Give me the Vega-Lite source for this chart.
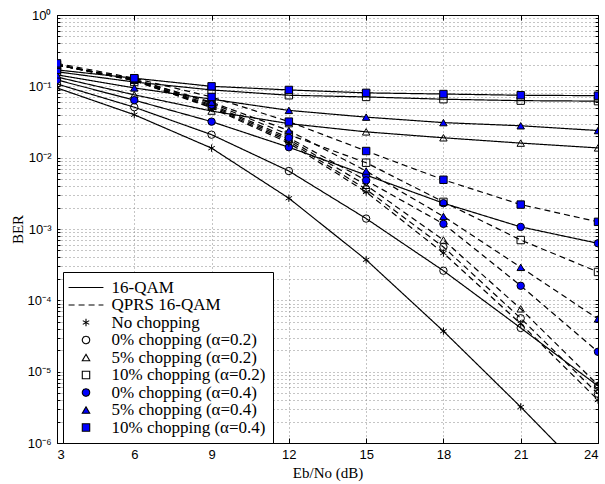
{
  "$schema": "https://vega.github.io/schema/vega-lite/v6.json",
  "width": 541,
  "height": 428,
  "autosize": "none",
  "padding": {"left": 57, "top": 15, "right": 7, "bottom": 41},
  "background": "white",
  "config": {
    "view": {"stroke": "black", "strokeWidth": 1},
    "axis": {
      "domainColor": "black", "tickColor": "black", "labelColor": "black", "titleColor": "black",
      "labelFont": "Liberation Sans", "labelFontSize": 13,
      "titleFont": "Liberation Serif", "titleFontSize": 15, "titleFontWeight": "normal",
      "gridColor": "#8a8a8a", "gridDash": [1, 3], "gridOpacity": 1, "gridWidth": 1
    },
    "legend": {
      "orient": "none", "legendX": 6, "legendY": 257,
      "strokeColor": "black", "fillColor": "white", "padding": 7,
      "labelFont": "Liberation Serif", "labelFontSize": 17, "labelColor": "black",
      "symbolStrokeColor": "black", "symbolStrokeWidth": 1.1, "symbolSize": 55,
      "symbolOffset": 7.5, "labelOffset": 17, "rowPadding": -0.5
    }
  },
  "data": {
    "values": [
      {"x": 3, "ber": 0.095, "mod": "16-QAM", "marker": "No chopping"},
      {"x": 6, "ber": 0.040, "mod": "16-QAM", "marker": "No chopping"},
      {"x": 9, "ber": 0.0136, "mod": "16-QAM", "marker": "No chopping"},
      {"x": 12, "ber": 0.0027, "mod": "16-QAM", "marker": "No chopping"},
      {"x": 15, "ber": 0.00037, "mod": "16-QAM", "marker": "No chopping"},
      {"x": 18, "ber": 0.000037, "mod": "16-QAM", "marker": "No chopping"},
      {"x": 21, "ber": 0.0000032, "mod": "16-QAM", "marker": "No chopping"},
      {"x": 24, "ber": 0.00000025, "mod": "16-QAM", "marker": "No chopping"},

      {"x": 3, "ber": 0.108, "mod": "16-QAM", "marker": "0% chopping (α=0.2)"},
      {"x": 6, "ber": 0.051, "mod": "16-QAM", "marker": "0% chopping (α=0.2)"},
      {"x": 9, "ber": 0.021, "mod": "16-QAM", "marker": "0% chopping (α=0.2)"},
      {"x": 12, "ber": 0.0065, "mod": "16-QAM", "marker": "0% chopping (α=0.2)"},
      {"x": 15, "ber": 0.0014, "mod": "16-QAM", "marker": "0% chopping (α=0.2)"},
      {"x": 18, "ber": 0.00026, "mod": "16-QAM", "marker": "0% chopping (α=0.2)"},
      {"x": 21, "ber": 0.000041, "mod": "16-QAM", "marker": "0% chopping (α=0.2)"},
      {"x": 24, "ber": 0.0000063, "mod": "16-QAM", "marker": "0% chopping (α=0.2)"},

      {"x": 3, "ber": 0.135, "mod": "16-QAM", "marker": "5% chopping (α=0.2)"},
      {"x": 6, "ber": 0.076, "mod": "16-QAM", "marker": "5% chopping (α=0.2)"},
      {"x": 9, "ber": 0.045, "mod": "16-QAM", "marker": "5% chopping (α=0.2)"},
      {"x": 12, "ber": 0.030, "mod": "16-QAM", "marker": "5% chopping (α=0.2)"},
      {"x": 15, "ber": 0.023, "mod": "16-QAM", "marker": "5% chopping (α=0.2)"},
      {"x": 18, "ber": 0.019, "mod": "16-QAM", "marker": "5% chopping (α=0.2)"},
      {"x": 21, "ber": 0.016, "mod": "16-QAM", "marker": "5% chopping (α=0.2)"},
      {"x": 24, "ber": 0.0137, "mod": "16-QAM", "marker": "5% chopping (α=0.2)"},

      {"x": 3, "ber": 0.16, "mod": "16-QAM", "marker": "10% chopping (α=0.2)"},
      {"x": 6, "ber": 0.115, "mod": "16-QAM", "marker": "10% chopping (α=0.2)"},
      {"x": 9, "ber": 0.089, "mod": "16-QAM", "marker": "10% chopping (α=0.2)"},
      {"x": 12, "ber": 0.075, "mod": "16-QAM", "marker": "10% chopping (α=0.2)"},
      {"x": 15, "ber": 0.071, "mod": "16-QAM", "marker": "10% chopping (α=0.2)"},
      {"x": 18, "ber": 0.066, "mod": "16-QAM", "marker": "10% chopping (α=0.2)"},
      {"x": 21, "ber": 0.063, "mod": "16-QAM", "marker": "10% chopping (α=0.2)"},
      {"x": 24, "ber": 0.062, "mod": "16-QAM", "marker": "10% chopping (α=0.2)"},

      {"x": 3, "ber": 0.123, "mod": "16-QAM", "marker": "0% chopping (α=0.4)"},
      {"x": 6, "ber": 0.064, "mod": "16-QAM", "marker": "0% chopping (α=0.4)"},
      {"x": 9, "ber": 0.032, "mod": "16-QAM", "marker": "0% chopping (α=0.4)"},
      {"x": 12, "ber": 0.014, "mod": "16-QAM", "marker": "0% chopping (α=0.4)"},
      {"x": 15, "ber": 0.0057, "mod": "16-QAM", "marker": "0% chopping (α=0.4)"},
      {"x": 18, "ber": 0.0023, "mod": "16-QAM", "marker": "0% chopping (α=0.4)"},
      {"x": 21, "ber": 0.00107, "mod": "16-QAM", "marker": "0% chopping (α=0.4)"},
      {"x": 24, "ber": 0.00063, "mod": "16-QAM", "marker": "0% chopping (α=0.4)"},

      {"x": 3, "ber": 0.145, "mod": "16-QAM", "marker": "5% chopping (α=0.4)"},
      {"x": 6, "ber": 0.095, "mod": "16-QAM", "marker": "5% chopping (α=0.4)"},
      {"x": 9, "ber": 0.066, "mod": "16-QAM", "marker": "5% chopping (α=0.4)"},
      {"x": 12, "ber": 0.046, "mod": "16-QAM", "marker": "5% chopping (α=0.4)"},
      {"x": 15, "ber": 0.037, "mod": "16-QAM", "marker": "5% chopping (α=0.4)"},
      {"x": 18, "ber": 0.031, "mod": "16-QAM", "marker": "5% chopping (α=0.4)"},
      {"x": 21, "ber": 0.028, "mod": "16-QAM", "marker": "5% chopping (α=0.4)"},
      {"x": 24, "ber": 0.024, "mod": "16-QAM", "marker": "5% chopping (α=0.4)"},

      {"x": 3, "ber": 0.17, "mod": "16-QAM", "marker": "10% chopping (α=0.4)"},
      {"x": 6, "ber": 0.13, "mod": "16-QAM", "marker": "10% chopping (α=0.4)"},
      {"x": 9, "ber": 0.10, "mod": "16-QAM", "marker": "10% chopping (α=0.4)"},
      {"x": 12, "ber": 0.089, "mod": "16-QAM", "marker": "10% chopping (α=0.4)"},
      {"x": 15, "ber": 0.081, "mod": "16-QAM", "marker": "10% chopping (α=0.4)"},
      {"x": 18, "ber": 0.078, "mod": "16-QAM", "marker": "10% chopping (α=0.4)"},
      {"x": 21, "ber": 0.075, "mod": "16-QAM", "marker": "10% chopping (α=0.4)"},
      {"x": 24, "ber": 0.074, "mod": "16-QAM", "marker": "10% chopping (α=0.4)"},

      {"x": 3, "ber": 0.20, "mod": "QPRS 16-QAM", "marker": "No chopping"},
      {"x": 6, "ber": 0.12, "mod": "QPRS 16-QAM", "marker": "No chopping"},
      {"x": 9, "ber": 0.050, "mod": "QPRS 16-QAM", "marker": "No chopping"},
      {"x": 12, "ber": 0.016, "mod": "QPRS 16-QAM", "marker": "No chopping"},
      {"x": 15, "ber": 0.0033, "mod": "QPRS 16-QAM", "marker": "No chopping"},
      {"x": 18, "ber": 0.00046, "mod": "QPRS 16-QAM", "marker": "No chopping"},
      {"x": 21, "ber": 0.000047, "mod": "QPRS 16-QAM", "marker": "No chopping"},
      {"x": 24, "ber": 0.0000040, "mod": "QPRS 16-QAM", "marker": "No chopping"},

      {"x": 3, "ber": 0.20, "mod": "QPRS 16-QAM", "marker": "0% chopping (α=0.2)"},
      {"x": 6, "ber": 0.121, "mod": "QPRS 16-QAM", "marker": "0% chopping (α=0.2)"},
      {"x": 9, "ber": 0.051, "mod": "QPRS 16-QAM", "marker": "0% chopping (α=0.2)"},
      {"x": 12, "ber": 0.017, "mod": "QPRS 16-QAM", "marker": "0% chopping (α=0.2)"},
      {"x": 15, "ber": 0.0036, "mod": "QPRS 16-QAM", "marker": "0% chopping (α=0.2)"},
      {"x": 18, "ber": 0.00056, "mod": "QPRS 16-QAM", "marker": "0% chopping (α=0.2)"},
      {"x": 21, "ber": 0.000056, "mod": "QPRS 16-QAM", "marker": "0% chopping (α=0.2)"},
      {"x": 24, "ber": 0.0000049, "mod": "QPRS 16-QAM", "marker": "0% chopping (α=0.2)"},

      {"x": 3, "ber": 0.20, "mod": "QPRS 16-QAM", "marker": "5% chopping (α=0.2)"},
      {"x": 6, "ber": 0.122, "mod": "QPRS 16-QAM", "marker": "5% chopping (α=0.2)"},
      {"x": 9, "ber": 0.053, "mod": "QPRS 16-QAM", "marker": "5% chopping (α=0.2)"},
      {"x": 12, "ber": 0.018, "mod": "QPRS 16-QAM", "marker": "5% chopping (α=0.2)"},
      {"x": 15, "ber": 0.0041, "mod": "QPRS 16-QAM", "marker": "5% chopping (α=0.2)"},
      {"x": 18, "ber": 0.00070, "mod": "QPRS 16-QAM", "marker": "5% chopping (α=0.2)"},
      {"x": 21, "ber": 0.000076, "mod": "QPRS 16-QAM", "marker": "5% chopping (α=0.2)"},
      {"x": 24, "ber": 0.0000065, "mod": "QPRS 16-QAM", "marker": "5% chopping (α=0.2)"},

      {"x": 3, "ber": 0.20, "mod": "QPRS 16-QAM", "marker": "10% chopping (α=0.2)"},
      {"x": 6, "ber": 0.125, "mod": "QPRS 16-QAM", "marker": "10% chopping (α=0.2)"},
      {"x": 9, "ber": 0.058, "mod": "QPRS 16-QAM", "marker": "10% chopping (α=0.2)"},
      {"x": 12, "ber": 0.021, "mod": "QPRS 16-QAM", "marker": "10% chopping (α=0.2)"},
      {"x": 15, "ber": 0.0085, "mod": "QPRS 16-QAM", "marker": "10% chopping (α=0.2)"},
      {"x": 18, "ber": 0.0024, "mod": "QPRS 16-QAM", "marker": "10% chopping (α=0.2)"},
      {"x": 21, "ber": 0.00070, "mod": "QPRS 16-QAM", "marker": "10% chopping (α=0.2)"},
      {"x": 24, "ber": 0.00025, "mod": "QPRS 16-QAM", "marker": "10% chopping (α=0.2)"},

      {"x": 3, "ber": 0.20, "mod": "QPRS 16-QAM", "marker": "0% chopping (α=0.4)"},
      {"x": 6, "ber": 0.123, "mod": "QPRS 16-QAM", "marker": "0% chopping (α=0.4)"},
      {"x": 9, "ber": 0.055, "mod": "QPRS 16-QAM", "marker": "0% chopping (α=0.4)"},
      {"x": 12, "ber": 0.019, "mod": "QPRS 16-QAM", "marker": "0% chopping (α=0.4)"},
      {"x": 15, "ber": 0.0048, "mod": "QPRS 16-QAM", "marker": "0% chopping (α=0.4)"},
      {"x": 18, "ber": 0.00118, "mod": "QPRS 16-QAM", "marker": "0% chopping (α=0.4)"},
      {"x": 21, "ber": 0.00016, "mod": "QPRS 16-QAM", "marker": "0% chopping (α=0.4)"},
      {"x": 24, "ber": 0.000019, "mod": "QPRS 16-QAM", "marker": "0% chopping (α=0.4)"},

      {"x": 3, "ber": 0.20, "mod": "QPRS 16-QAM", "marker": "5% chopping (α=0.4)"},
      {"x": 6, "ber": 0.125, "mod": "QPRS 16-QAM", "marker": "5% chopping (α=0.4)"},
      {"x": 9, "ber": 0.060, "mod": "QPRS 16-QAM", "marker": "5% chopping (α=0.4)"},
      {"x": 12, "ber": 0.024, "mod": "QPRS 16-QAM", "marker": "5% chopping (α=0.4)"},
      {"x": 15, "ber": 0.0065, "mod": "QPRS 16-QAM", "marker": "5% chopping (α=0.4)"},
      {"x": 18, "ber": 0.0015, "mod": "QPRS 16-QAM", "marker": "5% chopping (α=0.4)"},
      {"x": 21, "ber": 0.00029, "mod": "QPRS 16-QAM", "marker": "5% chopping (α=0.4)"},
      {"x": 24, "ber": 0.000055, "mod": "QPRS 16-QAM", "marker": "5% chopping (α=0.4)"},

      {"x": 3, "ber": 0.21, "mod": "QPRS 16-QAM", "marker": "10% chopping (α=0.4)"},
      {"x": 6, "ber": 0.13, "mod": "QPRS 16-QAM", "marker": "10% chopping (α=0.4)"},
      {"x": 9, "ber": 0.071, "mod": "QPRS 16-QAM", "marker": "10% chopping (α=0.4)"},
      {"x": 12, "ber": 0.032, "mod": "QPRS 16-QAM", "marker": "10% chopping (α=0.4)"},
      {"x": 15, "ber": 0.0124, "mod": "QPRS 16-QAM", "marker": "10% chopping (α=0.4)"},
      {"x": 18, "ber": 0.0049, "mod": "QPRS 16-QAM", "marker": "10% chopping (α=0.4)"},
      {"x": 21, "ber": 0.0022, "mod": "QPRS 16-QAM", "marker": "10% chopping (α=0.4)"},
      {"x": 24, "ber": 0.00126, "mod": "QPRS 16-QAM", "marker": "10% chopping (α=0.4)"}
    ]
  },
  "layer": [
    {
      "mark": {"type": "line", "stroke": "black", "strokeWidth": 1.2, "clip": true},
      "encoding": {
        "x": {
          "field": "x", "type": "quantitative",
          "scale": {"domain": [3, 24], "nice": false, "zero": false},
          "axis": {"orient": "bottom", "values": [3, 6, 9, 12, 15, 18, 21, 24], "format": "d", "tickSize": -5, "labelPadding": 10, "title": "Eb/No (dB)", "titlePadding": 4, "grid": true}
        },
        "y": {
          "field": "ber", "type": "quantitative",
          "scale": {"type": "log", "domain": [0.000001, 1], "nice": false},
          "axis": {
            "orient": "left",
            "values": [0.000001, 0.000002, 0.000003, 0.000004, 0.000005, 0.000006, 0.000007, 0.000008, 0.000009,
                       0.00001, 0.00002, 0.00003, 0.00004, 0.00005, 0.00006, 0.00007, 0.00008, 0.00009,
                       0.0001, 0.0002, 0.0003, 0.0004, 0.0005, 0.0006, 0.0007, 0.0008, 0.0009,
                       0.001, 0.002, 0.003, 0.004, 0.005, 0.006, 0.007, 0.008, 0.009,
                       0.01, 0.02, 0.03, 0.04, 0.05, 0.06, 0.07, 0.08, 0.09,
                       0.1, 0.2, 0.3, 0.4, 0.5, 0.6, 0.7, 0.8, 0.9, 1],
            "labelExpr": "datum.value == 1 ? '10⁰' : datum.value == 0.1 ? '10⁻¹' : datum.value == 0.01 ? '10⁻²' : datum.value == 0.001 ? '10⁻³' : datum.value == 0.0001 ? '10⁻⁴' : datum.value == 0.00001 ? '10⁻⁵' : datum.value == 0.000001 ? '10⁻⁶' : ''",
            "tickSize": -3,
            "labelPadding": 9,
            "title": "BER", "titlePadding": 1, "grid": true
          }
        },
        "detail": {"field": "marker", "type": "nominal"},
        "strokeDash": {
          "field": "mod", "type": "nominal",
          "scale": {
            "domain": ["16-QAM", "QPRS 16-QAM", "No chopping", "0% chopping (α=0.2)", "5% chopping (α=0.2)", "10% chopping (α=0.2)", "0% chopping (α=0.4)", "5% chopping (α=0.4)", "10% chopping (α=0.4)"],
            "range": [[1, 0], [6, 4], [1, 0], [1, 0], [1, 0], [1, 0], [1, 0], [1, 0], [1, 0]]
          },
          "legend": {"title": null, "encode": {"symbols": {"update": {"stroke": {"value": "black"}, "strokeWidth": {"value": 1.1}}}}}
        }
      }
    },
    {
      "mark": {"type": "point", "filled": true, "stroke": "black", "strokeWidth": 1, "size": 55, "opacity": 1, "clip": true},
      "encoding": {
        "x": {"field": "x", "type": "quantitative", "axis": null},
        "y": {"field": "ber", "type": "quantitative", "axis": null},
        "shape": {
          "field": "marker", "type": "nominal",
          "scale": {
            "domain": ["16-QAM", "QPRS 16-QAM", "No chopping", "0% chopping (α=0.2)", "5% chopping (α=0.2)", "10% chopping (α=0.2)", "0% chopping (α=0.4)", "5% chopping (α=0.4)", "10% chopping (α=0.4)"],
            "range": ["M-4.7,0L4.7,0", "M-4.7,0L4.7,0", "M0,-1L0,1M-0.87,-0.5L0.87,0.5M-0.87,0.5L0.87,-0.5", "circle", "triangle-up", "square", "circle", "triangle-up", "square"]
          },
          "legend": {"title": null, "encode": {"symbols": {"update": {"stroke": {"value": "black"}, "strokeWidth": {"value": 1.1}}}}}
        },
        "fill": {
          "field": "marker", "type": "nominal",
          "scale": {
            "domain": ["16-QAM", "QPRS 16-QAM", "No chopping", "0% chopping (α=0.2)", "5% chopping (α=0.2)", "10% chopping (α=0.2)", "0% chopping (α=0.4)", "5% chopping (α=0.4)", "10% chopping (α=0.4)"],
            "range": ["transparent", "transparent", "transparent", "transparent", "transparent", "transparent", "#0000ff", "#0000ff", "#0000ff"]
          },
          "legend": {"title": null, "encode": {"symbols": {"update": {"stroke": {"value": "black"}, "strokeWidth": {"value": 1.1}}}}}
        }
      }
    },
    {
      "mark": {"type": "point", "opacity": 0},
      "encoding": {
        "x": {"field": "x", "type": "quantitative", "axis": {"orient": "top", "values": [3, 6, 9, 12, 15, 18, 21, 24], "labels": false, "tickSize": -5, "grid": false, "title": null}},
        "y": {"field": "ber", "type": "quantitative", "axis": {"orient": "right", "labels": false, "tickSize": -3, "grid": false, "title": null,
          "values": [0.000001, 0.000002, 0.000003, 0.000004, 0.000005, 0.000006, 0.000007, 0.000008, 0.000009,
                     0.00001, 0.00002, 0.00003, 0.00004, 0.00005, 0.00006, 0.00007, 0.00008, 0.00009,
                     0.0001, 0.0002, 0.0003, 0.0004, 0.0005, 0.0006, 0.0007, 0.0008, 0.0009,
                     0.001, 0.002, 0.003, 0.004, 0.005, 0.006, 0.007, 0.008, 0.009,
                     0.01, 0.02, 0.03, 0.04, 0.05, 0.06, 0.07, 0.08, 0.09,
                     0.1, 0.2, 0.3, 0.4, 0.5, 0.6, 0.7, 0.8, 0.9, 1]}}
      }
    }
  ],
  "resolve": {"axis": {"x": "independent", "y": "independent"}}
}
